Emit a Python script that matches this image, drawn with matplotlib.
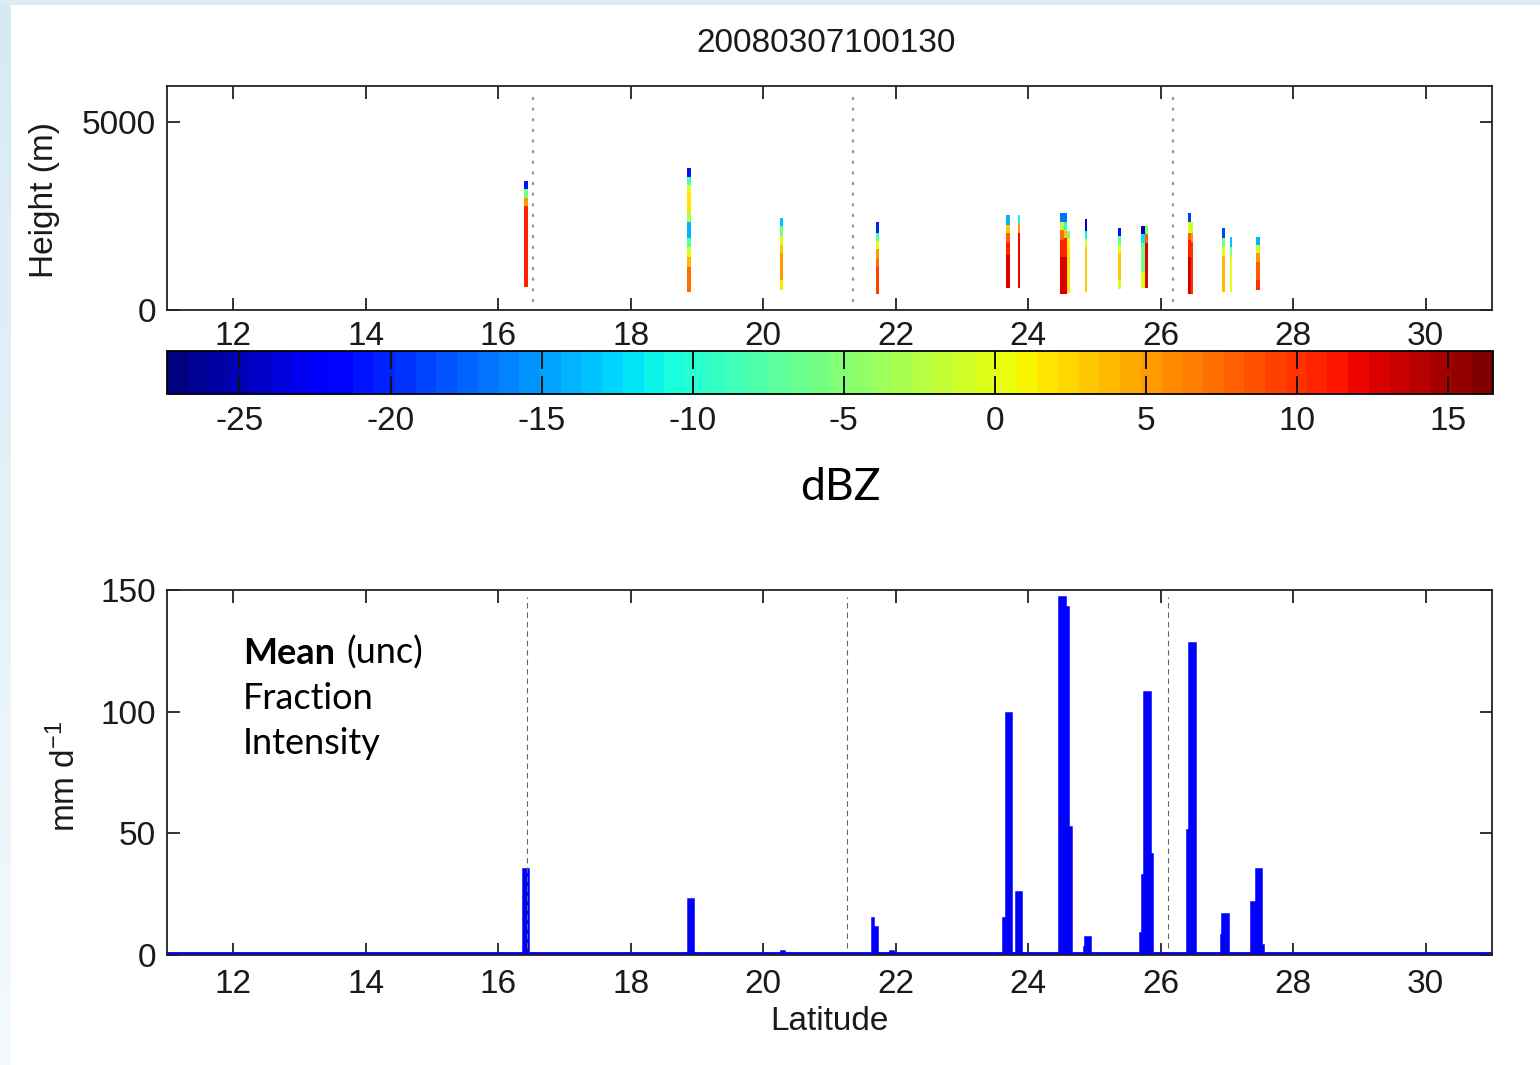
import numpy as np
import matplotlib
matplotlib.use("Agg")
import matplotlib.pyplot as plt
from matplotlib.colors import Normalize, LinearSegmentedColormap
from matplotlib.cm import ScalarMappable

# ---------------- data ----------------
title_text = "20080307100130"
lat_ticks = [12, 14, 16, 18, 20, 22, 24, 26, 28, 30]
lat_range = (11.0, 31.0)
height_ticks = [0, 5000]
height_top = 5960
rain_ticks = [0, 50, 100, 150]
rain_top = 150
dbz_ticks = [-25, -20, -15, -10, -5, 0, 5, 10, 15]
dbz_range = (-27.4, 16.5)

# radar reflectivity columns: latitude span, layer boundaries (m), dBZ per layer
col_lat0 = [16.395, 18.855, 20.26, 21.695, 23.66, 23.84, 24.485, 24.545, 24.59,
            24.85, 25.36, 25.705, 25.765, 26.405, 26.46, 26.93, 27.04, 27.435]
col_lat1 = [16.445, 18.915, 20.30, 21.745, 23.72, 23.88, 24.545, 24.59, 24.63,
            24.89, 25.40, 25.765, 25.805, 26.46, 26.49, 26.97, 27.08, 27.495]
col_z = [
    [600, 2770, 2980, 3220, 3430],
    [480, 1144, 1410, 1676, 1915, 2341, 2607, 3112, 3325, 3538, 3777],
    [532, 798, 1516, 1729, 1968, 2234, 2447],
    [426, 1144, 1383, 1622, 1835, 2048, 2341],
    [585, 1463, 1782, 2048, 2261, 2527],
    [585, 2048, 2314, 2527],
    [426, 1410, 1862, 2128, 2341, 2580],
    [426, 1400, 1915, 2128, 2341, 2580],
    [452, 1649, 1915, 2101],
    [479, 1676, 1889, 2101, 2420],
    [559, 798, 1516, 1729, 1968, 2181],
    [585, 1011, 1782, 2021, 2234],
    [585, 1782, 2021, 2234],
    [426, 1410, 1862, 2048, 2341, 2580],
    [426, 1800, 2048, 2341],
    [479, 1436, 1676, 1915, 2181],
    [479, 1410, 1676, 1942],
    [532, 798, 1277, 1516, 1729, 1942],
]
col_dbz = [
    [11, 5, -6, -21],
    [7, 4, 0, -7, -14, -3, 2, 0, -8, -21],
    [2, 5, 3, 0, -6, -13],
    [9, 7, 5, 0, -8, -20],
    [13, 11, 8, 3, -14],
    [12, 5, -11],
    [13, 11, 7, -2, -17],
    [13, 11, 3, -10, -17],
    [2, 1, -6],
    [3, 0, -11, -25],
    [-1, 3, 0, -7, -21],
    [0, -6, -12, -25],
    [13, 8, -5],
    [13, 11, 8, 0, -19],
    [10, 5, -2],
    [4, 0, -6, -19],
    [0, -5, -13],
    [10, 8, 5, -2, -14],
]

# granule boundary markers
marker_lat_profile = [16.52, 21.35, 26.18]
marker_lat_rain = [16.43, 21.26, 26.11]

# surface rain rate (mm/day) along track, non-zero stretches
rain_lat0 = [16.37, 18.83, 18.86, 20.27, 21.64, 21.67, 21.73, 21.91,
             23.62, 23.66, 23.815, 24.463, 24.565, 24.62, 24.845, 24.86,
             25.686, 25.72, 25.75, 25.847, 26.40, 26.43, 26.909, 26.928,
             27.357, 27.433, 27.532]
rain_lat1 = [16.465, 18.86, 18.95, 20.33, 21.67, 21.73, 21.78, 21.98,
             23.66, 23.755, 23.91, 24.565, 24.62, 24.655, 24.86, 24.946,
             25.72, 25.75, 25.847, 25.887, 26.43, 26.527, 26.928, 27.03,
             27.433, 27.532, 27.558]
rain_mm = [35.3, 1.0, 23.0, 1.5, 15.1, 11.6, 1.0, 1.5,
           15.2, 99.5, 25.8, 147.0, 143.2, 52.6, 3.4, 7.3,
           8.9, 32.9, 108.2, 41.4, 51.4, 128.4, 8.2, 16.9,
           21.9, 35.3, 4.1]

label_lines = ["Fraction", "Intensity"]

# ---------------- style ----------------
plt.rcParams["font.family"] = ["Liberation Sans", "DejaVu Sans"]
plt.rcParams["mathtext.default"] = "regular"
TICK_FS = 24
TEXT_COLOR = "#1a1a1a"
HUMANIST = ["Lato", "DejaVu Sans"]
BLUE = "#0000ff"

fig = plt.figure(figsize=(15.4, 10.65), dpi=100)
fig.patch.set_facecolor("white")
W, H = 1540.0, 1065.0


def fx(px):
    return px / W


def fy(py):
    return 1.0 - py / H


# page frame: light blue band at top and a fading strip on the left
bg = fig.add_axes([0, 0, 1, 1], zorder=-10)
bg.set_xlim(0, W)
bg.set_ylim(H, 0)
bg.axis("off")
bg.add_patch(plt.Rectangle((0, 0), W, 5, color="#dcedf5", lw=0))
strip = LinearSegmentedColormap.from_list("strip", ["#d6eaf3", "#f4fafc"])
bg.imshow(np.linspace(0, 1, 256)[:, None], cmap=strip, aspect="auto",
          extent=(0, 11, H, 0), interpolation="bilinear")

cmap = plt.get_cmap("jet", 64)
norm = Normalize(*dbz_range)


def style_axes(ax):
    for s in ax.spines.values():
        s.set_linewidth(1.3)
        s.set_color("#222222")
    ax.tick_params(direction="in", top=True, right=True, length=9, width=1.3,
                   labelsize=TICK_FS, color="#222222", labelcolor=TEXT_COLOR)


# ---------------- reflectivity panel ----------------
ax1 = fig.add_axes([fx(167), fy(310), fx(1492) - fx(167), fy(86) - fy(310)])
for lat0, lat1, z, dbz in zip(col_lat0, col_lat1, col_z, col_dbz):
    ax1.pcolormesh([lat0, lat1], z, np.array(dbz, dtype=float)[:, None],
                   cmap=cmap, norm=norm, shading="flat", antialiased=True)
for lat in marker_lat_profile:
    ax1.axvline(lat, ymin=0.04, ymax=0.96, color="0.6", lw=1.7,
                ls=(0, (0.5, 4.0)), dash_capstyle="round")
ax1.set_xlim(*lat_range)
ax1.set_ylim(0, height_top)
ax1.set_xticks(lat_ticks)
ax1.set_yticks(height_ticks)
style_axes(ax1)
ax1.tick_params(axis="x", pad=8)
ax1.tick_params(axis="y", pad=8)
ax1.set_ylabel("Height (m)", fontsize=TICK_FS, color=TEXT_COLOR)
ax1.yaxis.label.set_va("center")
ax1.yaxis.set_label_coords((45 - 167) / 1325.0, 0.49)

fig.text(fx(826), fy(43), title_text, fontsize=TICK_FS, ha="center",
         va="center", color=TEXT_COLOR)

# ---------------- colour bar ----------------
cax = fig.add_axes([fx(167), fy(394), fx(1493) - fx(167), fy(351) - fy(394)])
cb = fig.colorbar(ScalarMappable(norm=norm, cmap=cmap), cax=cax,
                  orientation="horizontal", ticks=dbz_ticks)
cb.ax.set_xticklabels([f"{t:d}" for t in dbz_ticks])
cb.outline.set_linewidth(1.3)
cax.tick_params(direction="in", top=True, bottom=True, length=13, width=1.4,
                labelsize=TICK_FS, pad=9, color="#111111", labelcolor=TEXT_COLOR)
fig.text(fx(840), fy(500), "dBZ", fontsize=32, family=HUMANIST,
         ha="center", va="baseline")

# ---------------- rain-rate panel ----------------
ax2 = fig.add_axes([fx(167), fy(955), fx(1492) - fx(167), fy(590) - fy(955)])
edges = [lat_range[0]]
vals = []
for a, b, v in zip(rain_lat0, rain_lat1, rain_mm):
    if a > edges[-1]:
        vals.append(0.0)
        edges.append(a)
    vals.append(v)
    edges.append(b)
if edges[-1] < lat_range[1]:
    vals.append(0.0)
    edges.append(lat_range[1])
ax2.stairs(vals, edges, fill=True, color=BLUE, lw=0)
ax2.stairs(vals, edges, baseline=None, color=BLUE, lw=1.1)
ax2.axhline(0, color=BLUE, lw=4.2)
for lat in marker_lat_rain:
    ax2.axvline(lat, ymin=0.02, ymax=0.98, color="0.4", lw=0.8,
                ls=(0, (5, 3.5)))
ax2.set_xlim(*lat_range)
ax2.set_ylim(0, rain_top)
ax2.set_xticks(lat_ticks)
ax2.set_yticks(rain_ticks)
style_axes(ax2)
ax2.tick_params(axis="x", pad=10)
ax2.tick_params(axis="y", pad=8)
ax2.set_xlabel("Latitude", fontsize=TICK_FS, color=TEXT_COLOR)
ax2.xaxis.label.set_va("center")
ax2.xaxis.set_label_coords(0.5, -(1022 - 955) / 365.0)
ax2.set_ylabel("mm d$^{-1}$", fontsize=TICK_FS, color=TEXT_COLOR)
ax2.yaxis.label.set_va("center")
ax2.yaxis.set_label_coords((65 - 167) / 1325.0, 0.49)

# statistic labels inside the rain panel
tx = (243 - 167) / 1325.0
t_mean = ax2.text(tx, (955 - 664) / 365.0, "Mean", transform=ax2.transAxes,
                  fontsize=26, family=HUMANIST, fontweight="bold", va="baseline")
fig.canvas.draw()
bb = t_mean.get_window_extent()
x_next = ax2.transAxes.inverted().transform((bb.x1 + 11, bb.y0))[0]
ax2.text(x_next, (955 - 664) / 365.0, "(unc)", transform=ax2.transAxes,
         fontsize=26, family=HUMANIST, va="baseline")
for i, line in enumerate(label_lines):
    ax2.text(tx, (955 - 709 - 45 * i) / 365.0, line, transform=ax2.transAxes,
             fontsize=26, family=HUMANIST, va="baseline")

fig.savefig("out.png", dpi=100, facecolor=fig.get_facecolor())
